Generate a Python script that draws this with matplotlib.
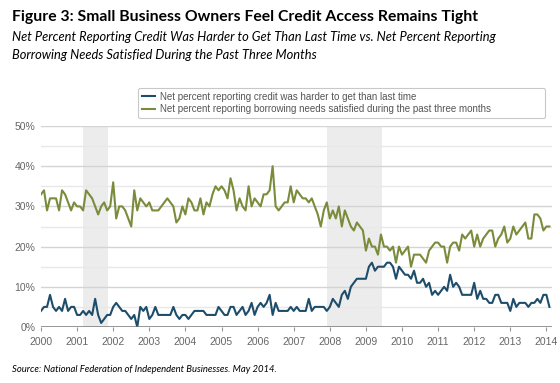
import numpy as np
import matplotlib
matplotlib.use("Agg")
import matplotlib.pyplot as plt

# monthly readings, Jan 2000 - Feb 2014 (percent)
harder = [
    4, 5, 5, 8, 5, 4, 5, 4, 7, 4, 5, 5,      # 2000
    3, 3, 4, 3, 4, 3, 7, 3, 1, 2, 3, 3,      # 2001
    5, 6, 5, 4, 4, 3, 2, 3, 0, 5, 4, 5,      # 2002
    2, 3, 5, 3, 3, 3, 3, 3, 5, 3, 2, 3,      # 2003
    3, 2, 3, 4, 4, 4, 4, 3, 3, 3, 3, 5,      # 2004
    4, 3, 3, 5, 5, 3, 4, 5, 3, 4, 6, 3,      # 2005
    5, 6, 5, 6, 8, 3, 6, 4, 4, 4, 4, 5,      # 2006
    4, 5, 4, 4, 4, 7, 4, 5, 5, 5, 5, 4,      # 2007
    5, 7, 6, 5, 8, 9, 7, 10, 11, 12, 12, 12,  # 2008
    12, 15, 16, 14, 15, 15, 15, 16, 16, 15, 12, 15,  # 2009
    14, 13, 13, 12, 14, 11, 11, 12, 10, 11, 8, 9,    # 2010
    8, 9, 10, 9, 13, 10, 11, 10, 8, 8, 8, 8,  # 2011
    11, 7, 9, 7, 7, 6, 6, 8, 8, 6, 6, 6,      # 2012
    4, 7, 5, 6, 6, 6, 5, 6, 6, 7, 6, 8,      # 2013
    8, 5,                                     # 2014
]
satisfied = [
    33, 34, 29, 32, 32, 32, 29, 34, 33, 31, 29, 31,  # 2000
    30, 30, 29, 34, 33, 32, 30, 28, 30, 31, 29, 30,  # 2001
    36, 27, 30, 30, 29, 27, 25, 34, 29, 32, 31, 30,  # 2002
    31, 29, 29, 29, 30, 31, 32, 31, 30, 26, 27, 30,  # 2003
    28, 32, 31, 29, 29, 32, 28, 31, 30, 33, 35, 34,  # 2004
    35, 34, 32, 37, 34, 29, 32, 30, 29, 35, 30, 32,  # 2005
    31, 30, 33, 33, 34, 40, 30, 29, 30, 31, 31, 35,  # 2006
    31, 34, 33, 32, 32, 31, 32, 30, 28, 25, 29, 31,  # 2007
    27, 29, 27, 30, 25, 29, 27, 25, 24, 26, 25, 24,  # 2008
    19, 22, 20, 20, 18, 23, 20, 20, 19, 20, 16, 20,  # 2009
    18, 19, 20, 15, 18, 18, 18, 17, 16, 19, 20, 21,  # 2010
    21, 20, 20, 16, 20, 21, 21, 19, 23, 22, 23, 24,  # 2011
    20, 23, 20, 22, 23, 24, 24, 20, 22, 23, 25, 21,  # 2012
    22, 25, 23, 24, 25, 26, 22, 22, 28, 28, 27, 24,  # 2013
    25, 25,                                          # 2014
]
recessions = [(2001.17, 2001.86), (2007.92, 2009.45)]
years = list(range(2000, 2015))
yticks = [0, 10, 20, 30, 40, 50]

label_harder = "Net percent reporting credit was harder to get than last time"
label_satisfied = "Net percent reporting borrowing needs satisfied during the past three months"

blue = "#1e4d6b"
green = "#7a8c3c"

t = 2000 + np.arange(len(harder)) / 12.0

fig = plt.figure(figsize=(5.6, 3.83), dpi=100)
ax = fig.add_axes([41 / 560, 1 - 327 / 383, 511 / 560, 201 / 383])

for a, b in recessions:
    ax.axvspan(a, b, color="#ececec", lw=0, zorder=0)

for v in range(5, 51, 5):
    ax.axhline(v, color="#d4d4d4" if v % 10 == 0 else "#e8e8e8", lw=1, zorder=1)
ax.axhline(0, color="#777777", lw=1.8, zorder=4)

ax.plot(t, harder, color=blue, lw=1.5, zorder=3, label=label_harder)
ax.plot(t, satisfied, color=green, lw=1.5, zorder=3, label=label_satisfied)

ax.set_xlim(2000, 2000 + 511 / 36.1)
ax.set_ylim(0, 50)
ax.set_xticks(years)
ax.set_xticklabels([str(y) for y in years])
ax.set_yticks(yticks)
ax.set_yticklabels([f"{v}%" for v in yticks])
ax.tick_params(axis="both", length=0, labelsize=7.5, labelcolor="#666666",
               pad=4)
ax.tick_params(axis="x", length=3, color="#999999", direction="out")
for lab in ax.get_xticklabels() + ax.get_yticklabels():
    lab.set_fontfamily("Liberation Sans")
for s in ax.spines.values():
    s.set_visible(False)

leg = ax.legend(loc="upper left", bbox_to_anchor=(133 / 560, 1 - 113 / 383, 417 / 560, 30 / 383),
                bbox_transform=fig.transFigure, mode="expand", fancybox=True,
                frameon=True, prop={"family": "Liberation Sans", "size": 7},
                handlelength=1.4, handletextpad=0.5, labelspacing=0.25,
                borderpad=0.4, labelcolor="#555555")
leg.get_frame().set_edgecolor("#bbbbbb")
leg.get_frame().set_linewidth(0.8)

fig.text(12 / 560, 1 - 17 / 383, "Figure 3: Small Business Owners Feel Credit Access Remains Tight",
         family="Lato", weight="bold", size=11.3, va="center", ha="left")
fig.text(12 / 560, 1 - 37 / 383,
         "Net Percent Reporting Credit Was Harder to Get Than Last Time vs. Net Percent Reporting",
         family="Lato", style="italic", size=9.3, va="center", ha="left")
fig.text(12 / 560, 1 - 55 / 383, "Borrowing Needs Satisfied During the Past Three Months",
         family="Lato", style="italic", size=9.3, va="center", ha="left")
fig.text(12 / 560, 1 - 370 / 383, "Source: National Federation of Independent Businesses. May 2014.",
         family="Lato", style="italic", size=6.8, va="center", ha="left")

fig.savefig("out.png", dpi=100)
